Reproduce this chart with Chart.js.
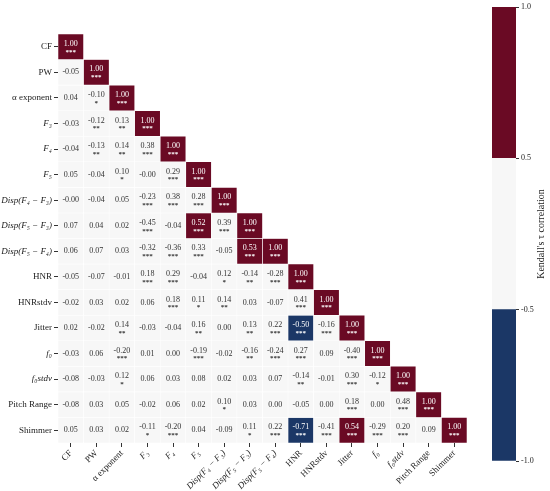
<!DOCTYPE html>
<html>
<head>
<meta charset="utf-8">
<script src="https://cdn.jsdelivr.net/npm/chart.js@4"></script>
<style>
  body { margin: 0; background: #fff; }
  #wrap { position: relative; width: 550px; height: 491px; }
  #heat { position: absolute; left: 0; top: 0; }
  #cbar { position: absolute; left: 470px; top: 0; }
</style>
</head>
<body>
<div id="wrap">
  <canvas id="heat" width="550" height="491"></canvas>
  <canvas id="cbar" width="80" height="491"></canvas>
</div>
<script>
// feature names (rows top->bottom, columns left->right)
const labels = ['CF', 'PW', 'α exponent', 'F₃', 'F₄', 'F₅', 'Disp(F₄ − F₃)', 'Disp(F₅ − F₃)', 'Disp(F₅ − F₄)',
  'HNR', 'HNRstdv', 'Jitter', 'f₀', 'f₀stdv', 'Pitch Range', 'Shimmer'];
const italicLabel = [false, false, false, true, true, true, true, true, true, false, false, false, true, true, false, false];

// lower triangle of Kendall's tau, row by row
const tau = [
  [1.00],
  [-0.05, 1.00],
  [0.04, -0.10, 1.00],
  [-0.03, -0.12, 0.13, 1.00],
  [-0.04, -0.13, 0.14, 0.38, 1.00],
  [0.05, -0.04, 0.10, -0.004, 0.29, 1.00],
  [-0.004, -0.04, 0.05, -0.23, 0.38, 0.28, 1.00],
  [0.07, 0.04, 0.02, -0.45, -0.04, 0.52, 0.39, 1.00],
  [0.06, 0.07, 0.03, -0.32, -0.36, 0.33, -0.05, 0.53, 1.00],
  [-0.05, -0.07, -0.01, 0.18, 0.29, -0.04, 0.12, -0.14, -0.28, 1.00],
  [-0.02, 0.03, 0.02, 0.06, 0.18, 0.11, 0.14, 0.03, -0.07, 0.41, 1.00],
  [0.02, -0.02, 0.14, -0.03, -0.04, 0.16, 0.00, 0.13, 0.22, -0.50, -0.16, 1.00],
  [-0.03, 0.06, -0.20, 0.01, 0.00, -0.19, -0.02, -0.16, -0.24, 0.27, 0.09, -0.40, 1.00],
  [-0.08, -0.03, 0.12, 0.06, 0.03, 0.08, 0.02, 0.03, 0.07, -0.14, -0.01, 0.30, -0.12, 1.00],
  [-0.08, 0.03, 0.05, -0.02, 0.06, 0.02, 0.10, 0.03, 0.00, -0.05, 0.00, 0.18, 0.00, 0.48, 1.00],
  [0.05, 0.03, 0.02, -0.11, -0.20, 0.04, -0.09, 0.11, 0.22, -0.71, -0.41, 0.54, -0.29, 0.20, 0.09, 1.00]
];

// number of significance stars per cell
const stars = [
  [3],
  [0, 3],
  [0, 1, 3],
  [0, 2, 2, 3],
  [0, 2, 2, 3, 3],
  [0, 0, 1, 0, 3, 3],
  [0, 0, 0, 3, 3, 3, 3],
  [0, 0, 0, 3, 0, 3, 3, 3],
  [0, 0, 0, 3, 3, 3, 0, 3, 3],
  [0, 0, 0, 3, 3, 0, 1, 2, 3, 3],
  [0, 0, 0, 0, 3, 1, 2, 0, 0, 3, 3],
  [0, 0, 2, 0, 0, 2, 0, 2, 3, 3, 3, 3],
  [0, 0, 3, 0, 0, 3, 0, 2, 3, 3, 0, 3, 3],
  [0, 0, 1, 0, 0, 0, 0, 0, 0, 2, 0, 3, 1, 3],
  [0, 0, 0, 0, 0, 0, 1, 0, 0, 0, 0, 3, 0, 3, 3],
  [0, 0, 0, 1, 3, 0, 0, 1, 3, 3, 3, 3, 3, 3, 0, 3]
];

// colour bar
const cbTicks = ['-1.0', '-0.5', '0.5', '1.0'];
const cbColors = ['#1b3766', '#f7f7f7', '#6a0a24'];

const SERIF = "'Liberation Serif', 'DejaVu Serif', serif";

function cellColor(v) {
  if (v > 0.5) return cbColors[2];
  if (v <= -0.5) return cbColors[0];
  return cbColors[1];
}

const datasets = tau.map((row, i) => ({
  label: labels[i],
  data: labels.map((_, j) => j <= i ? [i, i + 1] : null),
  backgroundColor: labels.map((_, j) => j <= i ? cellColor(row[j]) : 'rgba(0,0,0,0)'),
  borderColor: '#ffffff',
  borderWidth: 0.6,
  borderSkipped: false,
  barPercentage: 1,
  categoryPercentage: 1,
  grouped: false
}));

const cellText = {
  id: 'cellText',
  afterDatasetsDraw(chart) {
    const c = chart.ctx;
    c.save();
    c.textAlign = 'center';
    c.textBaseline = 'middle';
    chart.data.datasets.forEach((ds, i) => {
      const meta = chart.getDatasetMeta(i);
      meta.data.forEach((el, j) => {
        if (j > i) return;
        const v = tau[i][j];
        const s = stars[i][j];
        const cx = el.x;
        const cy = (el.y + el.base) / 2;
        c.fillStyle = (v > 0.5 || v <= -0.5) ? '#ffffff' : '#333333';
        c.font = '8px ' + SERIF;
        if (s > 0) {
          c.fillText(v.toFixed(2), cx, cy - 3);
          c.font = 'bold 7px ' + SERIF;
          c.fillText('*'.repeat(s), cx, cy + 5);
        } else {
          c.fillText(v.toFixed(2), cx, cy);
        }
      });
    });
    c.restore();
  }
};

new Chart(document.getElementById('heat'), {
  type: 'bar',
  data: { labels: labels, datasets: datasets },
  plugins: [cellText],
  options: {
    responsive: false,
    animation: false,
    layout: { padding: { top: 34, right: 83, left: 0, bottom: 0 } },
    plugins: { legend: { display: false }, tooltip: { enabled: false } },
    scales: {
      x: {
        type: 'category',
        offset: true,
        grid: { offset: false, drawOnChartArea: false, tickLength: 4, color: '#333' },
        border: { display: false },
        ticks: {
          autoSkip: false,
          maxRotation: 45,
          minRotation: 45,
          color: '#222',
          padding: 1,
          font: ctx => ({ family: SERIF, size: 9, style: italicLabel[ctx.index] ? 'italic' : 'normal' })
        },
        afterFit: scale => { scale.height = 48; }
      },
      y: {
        type: 'linear',
        min: 0,
        max: 16,
        reverse: true,
        grid: { drawOnChartArea: false, tickLength: 4, color: '#333' },
        border: { display: false },
        afterBuildTicks: scale => { scale.ticks = labels.map((_, i) => ({ value: i + 0.5 })); },
        ticks: {
          autoSkip: false,
          color: '#222',
          padding: 2,
          callback: (v, idx) => labels[idx],
          font: ctx => ({ family: SERIF, size: 9, style: italicLabel[ctx.index] ? 'italic' : 'normal' })
        },
        afterFit: scale => { scale.width = 58; }
      }
    }
  }
});

const cbTitle = {
  id: 'cbTitle',
  afterDraw(chart) {
    const c = chart.ctx;
    c.save();
    c.translate(71, (chart.chartArea.top + chart.chartArea.bottom) / 2);
    c.rotate(-Math.PI / 2);
    c.textAlign = 'center';
    c.textBaseline = 'middle';
    c.fillStyle = '#222';
    c.font = '10px ' + SERIF;
    c.fillText("Kendall's τ correlation", 0, 0);
    c.restore();
  }
};

new Chart(document.getElementById('cbar'), {
  type: 'bar',
  data: {
    labels: [''],
    datasets: cbColors.map(col => ({
      data: [1],
      backgroundColor: col,
      borderWidth: 0,
      barPercentage: 1,
      categoryPercentage: 1
    }))
  },
  plugins: [cbTitle],
  options: {
    responsive: false,
    animation: false,
    layout: { padding: { top: 7, bottom: 30, left: 22, right: 0 } },
    plugins: { legend: { display: false }, tooltip: { enabled: false } },
    scales: {
      x: { display: false, stacked: true },
      y: {
        position: 'right',
        stacked: true,
        min: 0,
        max: 3,
        grid: { drawOnChartArea: false, tickLength: 3, color: '#333' },
        border: { display: false },
        afterBuildTicks: scale => { scale.ticks = cbTicks.map((_, i) => ({ value: i })); },
        ticks: {
          color: '#222',
          padding: 2,
          font: { family: SERIF, size: 8 },
          callback: (v, idx) => cbTicks[idx]
        },
        afterFit: scale => { scale.width = 34; }
      }
    }
  }
});
</script>
</body>
</html>
